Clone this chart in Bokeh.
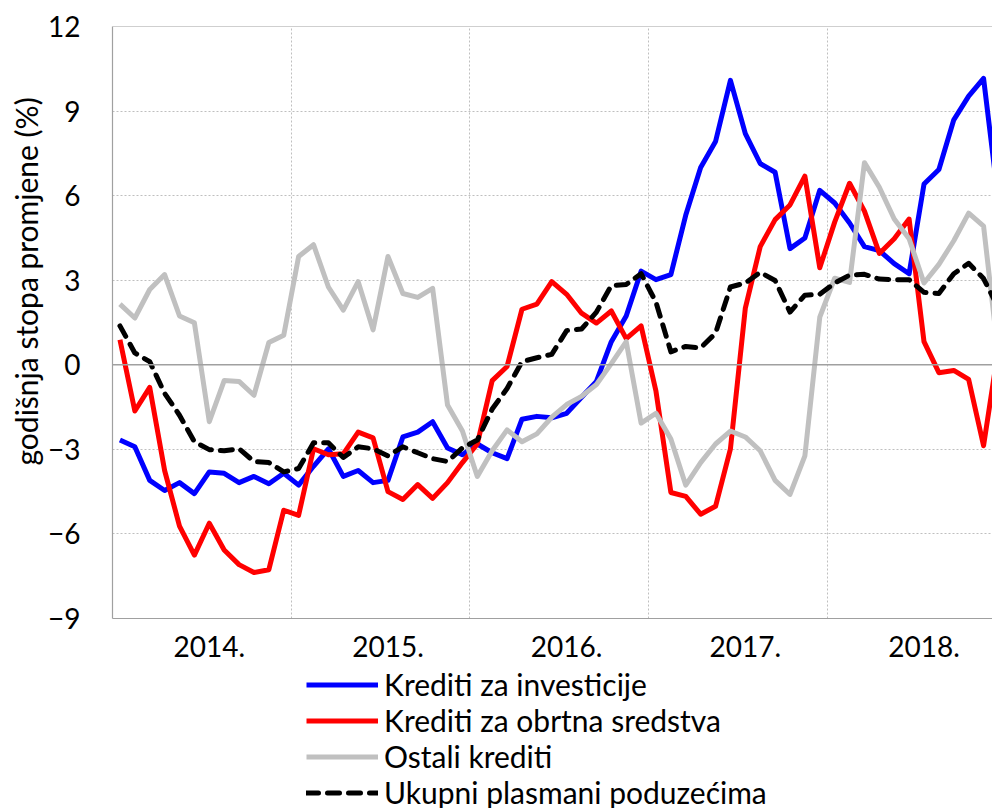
from bokeh.plotting import figure
from bokeh.layouts import column
from bokeh.models import (ColumnDataSource, FixedTicker, Span, Legend, LegendItem,
                          Range1d, Title)
from bokeh.embed import file_html
from bokeh.resources import INLINE

years = ["2014.", "2015.", "2016.", "2017.", "2018."]

investicije = [-2.67, -2.91, -4.1, -4.46, -4.18, -4.57, -3.8, -3.85, -4.18, -3.96, -4.22, -3.85,
               -4.27, -3.6, -2.98, -3.96, -3.75, -4.18, -4.1, -2.56, -2.39, -2.02, -2.95, -3.19,
               -2.81, -3.12, -3.33, -1.93, -1.83, -1.88, -1.72, -1.15, -0.59, 0.82, 1.73, 3.32,
               3.02, 3.2, 5.31, 7.0, 7.92, 10.09, 8.2, 7.14, 6.83, 4.12, 4.5, 6.19,
               5.74, 5.03, 4.19, 4.05, 3.59, 3.23, 6.41, 6.93, 8.69, 9.53, 10.16, 5.8]

obrtna = [0.89, -1.64, -0.8, -3.75, -5.72, -6.75, -5.62, -6.57, -7.09, -7.37, -7.27, -5.16,
          -5.34, -2.98, -3.19, -3.16, -2.39, -2.59, -4.5, -4.78, -4.25, -4.74, -4.18, -3.47,
          -2.81, -0.56, -0.06, 1.97, 2.15, 2.95, 2.5, 1.83, 1.48, 1.91, 0.93, 1.38,
          -0.94, -4.53, -4.67, -5.3, -5.02, -2.98, 2.01, 4.19, 5.15, 5.67, 6.69, 3.44,
          5.06, 6.44, 5.45, 3.95, 4.47, 5.17, 0.82, -0.28, -0.2, -0.52, -2.87, 0.6]

ostali = [2.15, 1.66, 2.67, 3.2, 1.73, 1.49, -2.02, -0.56, -0.59, -1.08, 0.79, 1.05,
          3.84, 4.26, 2.76, 1.94, 2.95, 1.24, 3.84, 2.53, 2.39, 2.71, -1.43, -2.35,
          -3.96, -3.05, -2.31, -2.73, -2.45, -1.86, -1.41, -1.12, -0.7, 0.04, 0.82, -2.07,
          -1.72, -2.63, -4.27, -3.47, -2.81, -2.35, -2.56, -3.05, -4.1, -4.6, -3.23, 1.69,
          3.07, 2.92, 7.17, 6.3, 5.17, 4.47, 2.9, 3.56, 4.4, 5.38, 4.92, 0.3]

ukupni = [1.38, 0.42, 0.11, -1.01, -1.79, -2.73, -3.01, -3.05, -2.98, -3.43, -3.47, -3.8,
          -3.68, -2.77, -2.77, -3.29, -2.91, -2.98, -3.23, -2.91, -3.12, -3.33, -3.43, -2.95,
          -2.67, -1.57, -0.84, 0.11, 0.25, 0.37, 1.21, 1.27, 1.87, 2.81, 2.85, 3.23,
          2.22, 0.46, 0.65, 0.6, 1.12, 2.76, 2.9, 3.28, 2.99, 1.87, 2.47, 2.5,
          2.9, 3.18, 3.21, 3.04, 3.02, 3.02, 2.57, 2.53, 3.23, 3.6, 3.06, 2.0]

series_names = ["Krediti za investicije", "Krediti za obrtna sredstva",
                "Ostali krediti", "Ukupni plasmani poduzećima"]

y_ticks = [-9, -6, -3, 0, 3, 6, 9, 12]

FONT = "Lato"
FS = "28px"
GRID = "#BFBFBF"
AXIS = "#A0A0A0"

months = [i + 0.5 for i in range(len(investicije))]
src = ColumnDataSource(dict(x=months, inv=investicije, obr=obrtna, ost=ostali, uk=ukupni))

styles = [
    dict(line_color="#0000FF", line_width=5, line_join="round"),
    dict(line_color="#FF0000", line_width=5, line_join="round"),
    dict(line_color="#C0C0C0", line_width=5, line_join="round"),
    dict(line_color="#000000", line_width=5, line_dash="12 9", line_cap="round", line_join="round"),
]
cols = ["inv", "obr", "ost", "uk"]

p = figure(width=992, height=668, output_backend="svg", toolbar_location=None,
           x_range=Range1d(0, 59.1), y_range=Range1d(-9, 12),
           min_border_left=112, min_border_right=0, min_border_top=26, min_border_bottom=50)
p.outline_line_color = None
p.background_fill_color = "white"

# grids
p.ygrid.ticker = FixedTicker(ticks=[t for t in y_ticks if t not in (0, 12)])
p.ygrid.grid_line_color = GRID
p.ygrid.grid_line_dash = "2 2"
p.ygrid.grid_line_width = 1
p.xgrid.ticker = FixedTicker(ticks=[12, 24, 36, 48])
p.xgrid.grid_line_color = GRID
p.xgrid.grid_line_dash = "2 2"
p.xgrid.grid_line_width = 1

p.add_layout(Span(location=0, dimension="width", line_color=AXIS, line_width=1.5))
p.add_layout(Span(location=12, dimension="width", line_color=AXIS, line_width=1.2))

# axes (year labels sit in the middle of each 12-month block)
year_ticks = [6.5, 18.5, 30.5, 42.5, 54.5]
p.xaxis.ticker = FixedTicker(ticks=year_ticks)
p.xaxis.major_label_overrides = {t: y for t, y in zip(year_ticks, years)}
p.xaxis.major_tick_line_color = None
p.xaxis.minor_tick_line_color = None
p.xaxis.major_tick_out = 0
p.xaxis.major_tick_in = 0
p.xaxis.axis_line_color = AXIS
p.xaxis.axis_line_width = 1.2
p.xaxis.major_label_text_font = FONT
p.xaxis.major_label_text_font_size = FS
p.xaxis.major_label_text_color = "black"
p.xaxis.major_label_standoff = 17

p.yaxis.ticker = FixedTicker(ticks=y_ticks)
p.yaxis.major_tick_line_color = None
p.yaxis.minor_tick_line_color = None
p.yaxis.major_tick_out = 0
p.yaxis.major_tick_in = 0
p.yaxis.axis_line_color = AXIS
p.yaxis.axis_line_width = 1.2
p.yaxis.major_label_text_font = FONT
p.yaxis.major_label_text_font_size = FS
p.yaxis.major_label_text_color = "black"
p.yaxis.major_label_standoff = 32

# series
for c, st in zip(cols, styles):
    p.line("x", c, source=src, **st)

# y axis title (offset upward like the reference)
ytitle = Title(text="godišnja stopa promjene (%)", align="left", offset=153,
               text_font=FONT, text_font_size="30px", text_font_style="normal",
               text_color="black", standoff=4)
p.add_layout(ytitle, "left")

# legend panel below (same series, ranges keep the lines out of view)
pl = figure(width=992, height=140, output_backend="svg", toolbar_location=None,
            x_range=Range1d(0, 59.1), y_range=Range1d(100, 101),
            x_axis_type=None, y_axis_type=None,
            min_border_left=0, min_border_right=0, min_border_top=0, min_border_bottom=0)
pl.outline_line_color = None
pl.xgrid.visible = False
pl.ygrid.visible = False
leg_items = []
for name, c, st in zip(series_names, cols, styles):
    r = pl.line("x", c, source=src, **st)
    leg_items.append(LegendItem(label=name, renderers=[r]))

legend = Legend(items=leg_items, location=(194, -2), orientation="vertical")
legend.border_line_color = None
legend.background_fill_alpha = 0
legend.label_text_font = FONT
legend.label_text_font_size = "30px"
legend.label_text_color = "black"
legend.glyph_width = 72
legend.glyph_height = 35
legend.label_height = 35
legend.label_standoff = 6
legend.spacing = 0
legend.padding = 0
legend.margin = 0
pl.add_layout(legend)

layout = column(p, pl, spacing=0)
open("out.html", "w").write(file_html(layout, INLINE))
